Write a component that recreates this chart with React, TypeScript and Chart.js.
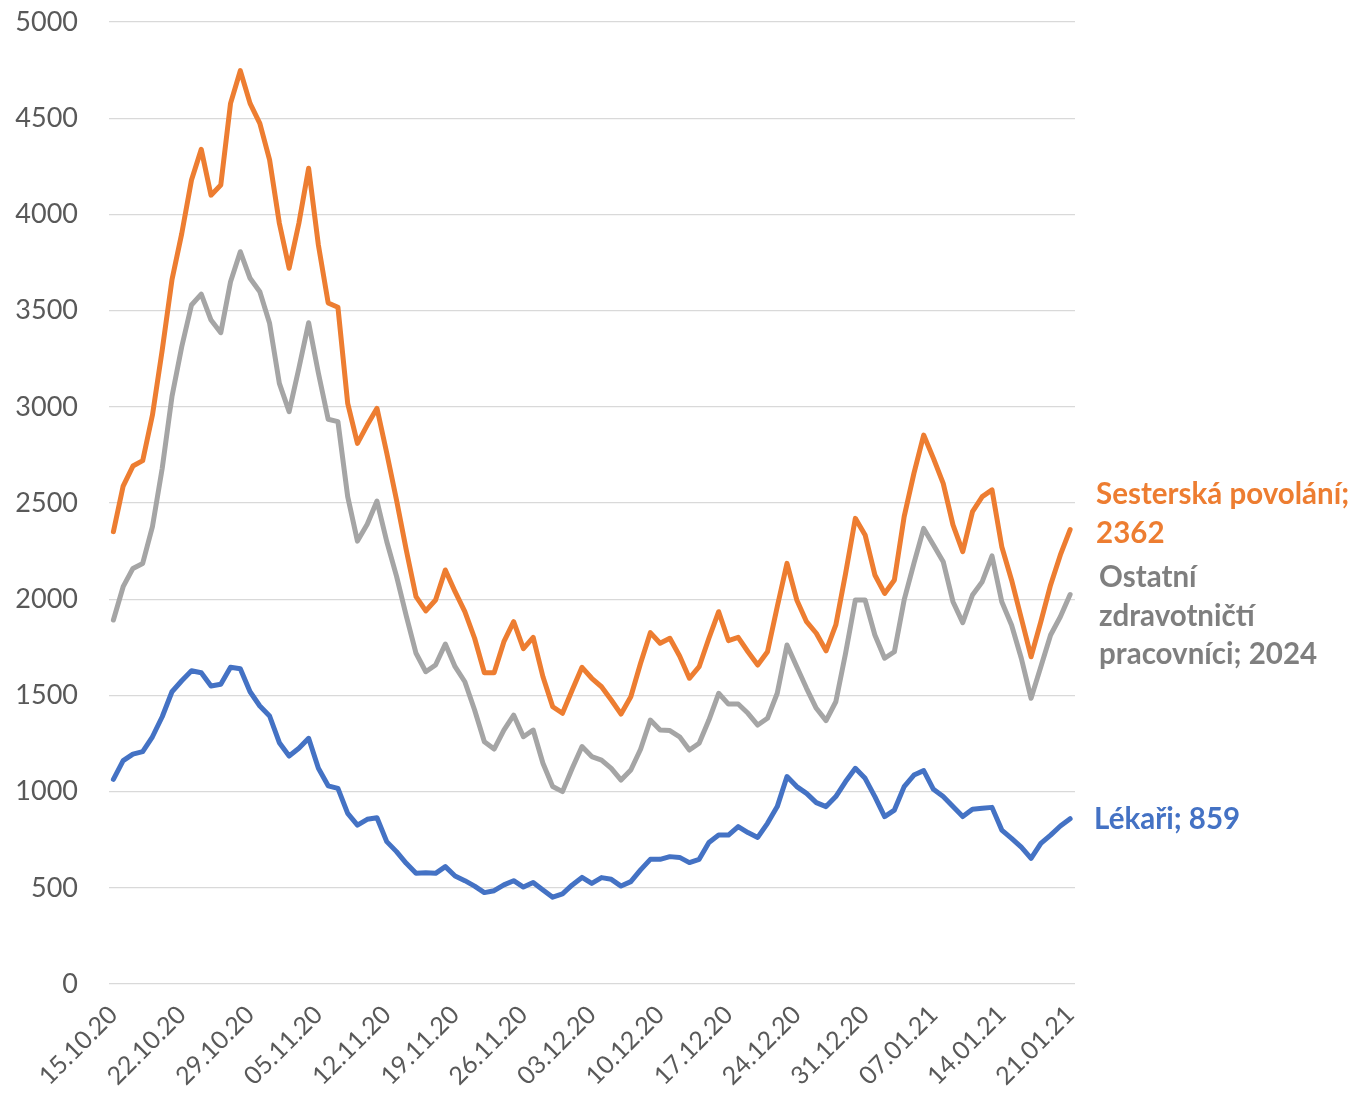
import React, { useEffect, useRef } from "react";
import { Chart, registerables } from "chart.js";

Chart.register(...registerables);

const tickLabels = [
  "15.10.20", "22.10.20", "29.10.20", "05.11.20", "12.11.20", "19.11.20", "26.11.20",
  "03.12.20", "10.12.20", "17.12.20", "24.12.20", "31.12.20", "07.01.21", "14.01.21", "21.01.21",
];

const seriesNames = ["Lékaři", "Sesterská povolání", "Ostatní zdravotničtí pracovníci"];

const lekari = [
  1064, 1161, 1195, 1208, 1285, 1389, 1519, 1576, 1628, 1618,
  1549, 1558, 1646, 1639, 1519, 1445, 1393, 1254, 1185, 1225,
  1277, 1121, 1030, 1017, 887, 826, 856, 864, 740, 688,
  627, 575, 578, 575, 610, 561, 537, 509, 475, 485,
  515, 537, 504, 528, 489, 451, 468, 515, 554, 523,
  553, 544, 509, 532, 593, 648, 648, 662, 658, 631,
  648, 735, 774, 774, 818, 787, 762, 835, 922, 1078,
  1026, 991, 943, 922, 974, 1052, 1121, 1069, 974, 870,
  904, 1026, 1086, 1109, 1012, 974, 922, 870, 908, 913,
  918, 800, 757, 711, 653, 731, 774, 821, 859,
];

const sesterska = [
  2351, 2588, 2692, 2720, 2957, 3295, 3660, 3900, 4179, 4338,
  4100, 4153, 4577, 4747, 4577, 4473, 4283, 3954, 3720, 3954,
  4240, 3840, 3540, 3517, 3018, 2810, 2905, 2992, 2760, 2515,
  2256, 2013, 1939, 1996, 2152, 2039, 1935, 1797, 1618, 1618,
  1779, 1883, 1743, 1802, 1597, 1441, 1407, 1528, 1646, 1589,
  1545, 1476, 1403, 1493, 1667, 1826, 1771, 1797, 1705, 1589,
  1649, 1797, 1935, 1785, 1802, 1727, 1658, 1727, 1961, 2186,
  1996, 1883, 1823, 1732, 1866, 2134, 2420, 2334, 2126, 2030,
  2100, 2429, 2654, 2853, 2732, 2602, 2386, 2247, 2455, 2533,
  2568, 2273, 2100, 1901, 1701, 1883, 2074, 2230, 2362,
];

const ostatni = [
  1892, 2065, 2160, 2186, 2377, 2680, 3053, 3312, 3529, 3586,
  3451, 3385, 3650, 3806, 3668, 3598, 3434, 3122, 2975, 3200,
  3437, 3175, 2935, 2923, 2533, 2302, 2390, 2510, 2300, 2120,
  1913, 1719, 1623, 1658, 1767, 1649, 1571, 1424, 1259, 1221,
  1320, 1398, 1285, 1320, 1147, 1026, 1000, 1121, 1234, 1182,
  1164, 1121, 1060, 1112, 1220, 1372, 1320, 1317, 1285, 1216,
  1251, 1372, 1511, 1455, 1455, 1407, 1346, 1381, 1511, 1762,
  1649, 1537, 1433, 1369, 1467, 1719, 1996, 1996, 1814, 1693,
  1727, 1996, 2186, 2368, 2282, 2195, 1987, 1878, 2022, 2091,
  2225, 1987, 1866, 1693, 1485, 1649, 1814, 1909, 2024,
];

const lineColors = ["#4472C4", "#ED7D31", "#A5A5A5"];
const labelColors = ["#4472C4", "#ED7D31", "#7F7F7F"];

const toPoints = (arr: number[]) => arr.map((v, i) => ({ x: i, y: v }));

function labelLines(idx: number, name: string, last: number): string[] {
  if (idx === 0) return [`${name}; ${last}`];
  if (idx === 1) return [`${name};`, `${last}`];
  const words = name.split(" ");
  return [words[0], words[1], `${words[2]}; ${last}`];
}

// per-series label placement relative to last point (style only)
const labelOffsets = [
  { dx: 24, dy: 1 },
  { dx: 26, dy: -35 },
  { dx: 29, dy: -17 },
];

const endLabelPlugin = {
  id: "endLabels",
  afterDatasetsDraw(chart: any) {
    const ctx = chart.ctx;
    ctx.save();
    ctx.font = "bold 29.5px Lato";
    ctx.textBaseline = "middle";
    ctx.textAlign = "left";
    chart.data.datasets.forEach((ds: any, i: number) => {
      const meta = chart.getDatasetMeta(i);
      const pt = meta.data[meta.data.length - 1];
      const last = ds.data[ds.data.length - 1].y;
      const lines = labelLines(i, ds.label, last);
      ctx.fillStyle = labelColors[i];
      lines.forEach((ln, k) => {
        ctx.fillText(ln, pt.x + labelOffsets[i].dx, pt.y + labelOffsets[i].dy + k * 38.5);
      });
    });
    ctx.restore();
  },
};

export default function App() {
  const ref = useRef<HTMLCanvasElement>(null);
  useEffect(() => {
    document.body.style.margin = "0";
    const chart = new Chart(ref.current!, {
      type: "line",
      data: {
        datasets: [lekari, sesterska, ostatni].map((arr, i) => ({
          label: seriesNames[i],
          data: toPoints(arr),
          borderColor: lineColors[i],
          backgroundColor: lineColors[i],
          borderWidth: 5,
          pointRadius: 0,
          tension: 0,
          borderJoinStyle: "round" as const,
          borderCapStyle: "round" as const,
        })),
      },
      options: {
        animation: false,
        responsive: false,
        layout: { autoPadding: false, padding: { top: 22, right: 282, left: 0, bottom: 0 } },
        plugins: { legend: { display: false }, tooltip: { enabled: false } },
        scales: {
          x: {
            type: "linear",
            min: -0.45,
            max: 98.5,
            afterBuildTicks: (scale: any) => {
              scale.ticks = tickLabels.map((_, k) => ({ value: k * 7 }));
            },
            afterFit: (scale: any) => {
              scale.height = 110;
              scale.paddingLeft = 0;
              scale.paddingRight = 0;
            },
            grid: { display: false },
            border: { display: false },
            ticks: {
              autoSkip: false,
              maxRotation: 45,
              minRotation: 45,
              padding: 8,
              color: "#595959",
              font: { family: "Lato", size: 25 },
              callback: (v: any) => tickLabels[Math.round(Number(v) / 7)] ?? "",
            },
          },
          y: {
            min: 0,
            max: 5000,
            afterFit: (scale: any) => {
              scale.width = 109;
              scale.paddingTop = 0;
              scale.paddingBottom = 0;
            },
            grid: { color: "#D9D9D9", lineWidth: 1.3, drawTicks: false },
            border: { display: false },
            ticks: {
              stepSize: 500,
              padding: 31,
              color: "#595959",
              font: { family: "Lato", size: 27 },
              callback: (v: any) => String(v),
            },
          },
        },
      },
      plugins: [endLabelPlugin],
    });
    return () => chart.destroy();
  }, []);
  return (
    <div style={{ width: 1357, height: 1094, background: "#fff" }}>
      <canvas ref={ref} width={1357} height={1094} style={{ display: "block" }} />
    </div>
  );
}
